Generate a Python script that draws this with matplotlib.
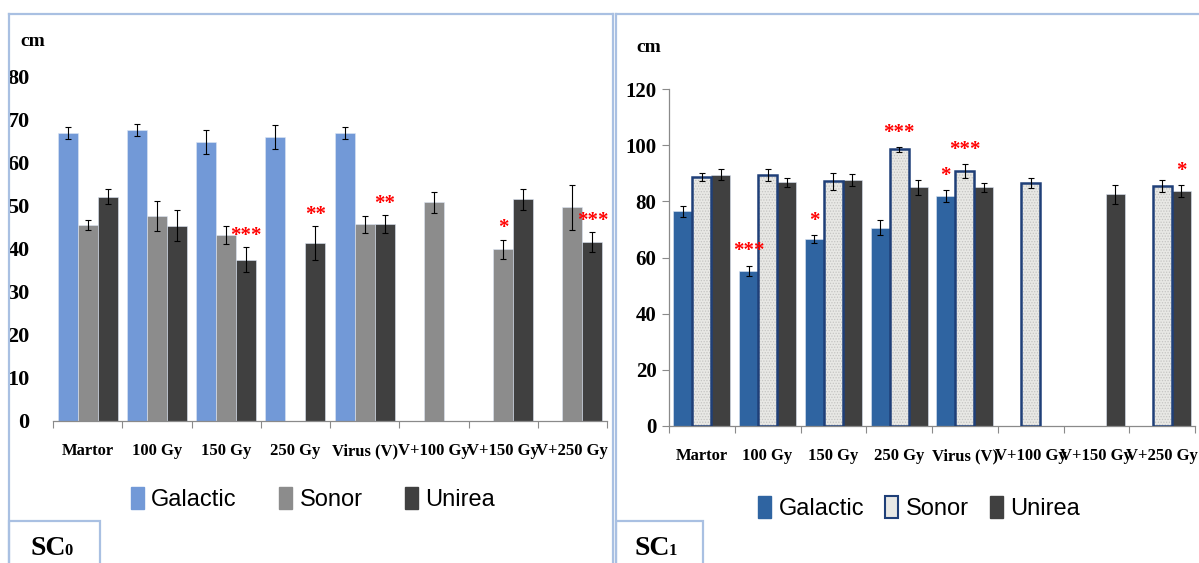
import numpy as np
import matplotlib
matplotlib.use("Agg")
import matplotlib.pyplot as plt
from matplotlib.patches import Patch, Rectangle
from matplotlib.lines import Line2D

categories = ["Martor", "100 Gy", "150 Gy", "250 Gy", "Virus (V)",
              "V+100 Gy", "V+150 Gy", "V+250 Gy"]
series = ["Galactic", "Sonor", "Unirea"]
nan = np.nan

# SC0 plant height (cm) and standard errors
sc0_galactic = [66.8, 67.6, 64.8, 65.9, 66.8, nan, nan, nan]
sc0_galactic_err = [1.4, 1.4, 2.7, 2.8, 1.4, nan, nan, nan]
sc0_sonor = [45.5, 47.7, 43.2, nan, 45.7, 50.8, 39.9, 49.6]
sc0_sonor_err = [1.2, 3.5, 2.0, nan, 2.0, 2.5, 2.2, 5.2]
sc0_unirea = [52.1, 45.3, 37.4, 41.3, 45.7, nan, 51.5, 41.5]
sc0_unirea_err = [1.7, 3.6, 2.9, 3.9, 2.1, nan, 2.4, 2.3]

# SC1 plant height (cm) and standard errors
sc1_galactic = [76.5, 55.2, 66.6, 70.7, 82.0, nan, nan, nan]
sc1_galactic_err = [1.9, 1.9, 1.4, 2.5, 2.1, nan, nan, nan]
sc1_sonor = [88.8, 89.4, 87.2, 98.6, 90.9, 86.6, nan, 85.6]
sc1_sonor_err = [1.5, 2.2, 3.0, 0.9, 2.4, 1.9, nan, 2.2]
sc1_unirea = [89.6, 86.9, 87.6, 85.0, 85.0, nan, 82.5, 83.7]
sc1_unirea_err = [1.9, 1.6, 2.1, 2.8, 1.5, nan, 3.5, 2.2]

# significance marks: (category index, series index, label)
sc0_marks = [(2, 2, "***"), (3, 2, "**"), (4, 2, "**"), (6, 1, "*"), (7, 2, "***")]
sc1_marks = [(1, 0, "***"), (2, 0, "*"), (3, 1, "***"), (4, 0, "*"),
             (4, 1, "***"), (7, 2, "*")]

W, H = 1199, 563
SERIF = "Liberation Serif"
SANS = "Liberation Sans"
FRAME = "#a9c0e2"
AXIS = "#8a8a8a"
BW = 0.29

fig = plt.figure(figsize=(W / 100, H / 100), dpi=100)
fig.patch.set_facecolor("white")


def fx(x):
    return x / W


def fy(y):
    return 1 - y / H


def frame_line(x0, y0, x1, y1):
    fig.add_artist(Line2D([fx(x0), fx(x1)], [fy(y0), fy(y1)],
                          transform=fig.transFigure, color=FRAME, lw=1.6))


def style_axes(ax, ymax, ystep, ysize, show_y):
    x = np.arange(len(categories))
    ax.set_xlim(-0.5, len(categories) - 0.5)
    ax.set_ylim(0, ymax)
    ax.set_yticks(np.arange(0, ymax + 1, ystep))
    ax.set_xticks(x)
    ax.set_xticklabels(categories)
    ax.set_xticks(np.arange(-0.5, len(categories)), minor=True)
    ax.tick_params(axis="x", which="major", length=0, pad=16)
    ax.tick_params(axis="x", which="minor", length=5, color=AXIS, width=0.8)
    for lab in ax.get_xticklabels():
        lab.set_fontfamily(SERIF)
        lab.set_fontweight("bold")
        lab.set_fontsize(12)
    for lab in ax.get_yticklabels():
        lab.set_fontfamily(SERIF)
        lab.set_fontweight("bold")
        lab.set_fontsize(ysize)
    for s in ("top", "right"):
        ax.spines[s].set_visible(False)
    ax.spines["bottom"].set_color(AXIS)
    ax.spines["bottom"].set_linewidth(0.9)
    if show_y:
        ax.spines["left"].set_color(AXIS)
        ax.spines["left"].set_linewidth(0.9)
        ax.tick_params(axis="y", length=5, color=AXIS, width=0.8, pad=4)
    else:
        ax.spines["left"].set_visible(False)
        ax.tick_params(axis="y", length=0, pad=17)
    ax.set_facecolor("none")


def errbars(ax, xs, vals, errs):
    ax.errorbar(xs, vals, yerr=errs, fmt="none", ecolor="black",
                elinewidth=0.8, capsize=2, capthick=0.8, zorder=4)


def stars(ax, marks, tops, offset):
    x = np.arange(len(categories))
    for ci, si, lab in marks:
        xs = x[ci] + (si - 1) * BW
        ax.annotate(lab, (xs, tops[si][ci]), xytext=(0, offset),
                    textcoords="offset points", ha="center", va="bottom",
                    color="red", fontsize=15, fontweight="bold",
                    family=SERIF, zorder=5)


# ---- SC0 panel ----
ax0 = fig.add_axes([fx(53), fy(420.7), fx(607 - 53), (420.7 - 76.7) / H])
x = np.arange(len(categories))
c0 = ["#7299d7", "#8c8c8c", "#404040"]
vals0 = [sc0_galactic, sc0_sonor, sc0_unirea]
errs0 = [sc0_galactic_err, sc0_sonor_err, sc0_unirea_err]
for i, (v, e) in enumerate(zip(vals0, errs0)):
    xs = x + (i - 1) * BW
    v = np.array(v)
    ok = ~np.isnan(v)
    ax0.bar(xs[ok], v[ok], BW, color=c0[i], edgecolor="#dde6f4",
            linewidth=0.4, zorder=2)
    errbars(ax0, xs[ok], v[ok], np.array(e)[ok])
style_axes(ax0, 80, 10, 16, False)
tops0 = [np.array(v) + np.array(e) for v, e in zip(vals0, errs0)]
stars(ax0, sc0_marks, tops0, 1)

fig.legend(handles=[Patch(color=c) for c in c0], labels=series,
           loc="center", bbox_to_anchor=(fx(313), fy(499)), ncol=3,
           frameon=False, handlelength=0.55, handleheight=1.1,
           handletextpad=0.3, columnspacing=1.8,
           prop={"family": SANS, "size": 17})

# ---- SC1 panel ----
ax1 = fig.add_axes([fx(669), fy(425.7), fx(1195 - 669), (425.7 - 89.3) / H])
c1 = ["#2f64a1", "#e8e8e5", "#404040"]
vals1 = [sc1_galactic, sc1_sonor, sc1_unirea]
errs1 = [sc1_galactic_err, sc1_sonor_err, sc1_unirea_err]
plt.rcParams["hatch.linewidth"] = 0.6
for i, (v, e) in enumerate(zip(vals1, errs1)):
    xs = x + (i - 1) * BW
    v = np.array(v)
    ok = ~np.isnan(v)
    if i == 1:
        # speckled fill, then the dark blue outline on top
        ax1.bar(xs[ok], v[ok], BW, color=c1[i], edgecolor="#c4c4c2",
                hatch="......", linewidth=0, zorder=2)
        ax1.bar(xs[ok], v[ok], BW, fill=False, edgecolor="#1f3f78",
                linewidth=1.8, zorder=3)
    else:
        ax1.bar(xs[ok], v[ok], BW, color=c1[i], edgecolor="#dde6f4",
                linewidth=0.4, zorder=2)
    errbars(ax1, xs[ok], v[ok], np.array(e)[ok])
style_axes(ax1, 120, 20, 15, True)
tops1 = [np.array(v) + np.array(e) for v, e in zip(vals1, errs1)]
stars(ax1, sc1_marks, tops1, 3)

fig.legend(handles=[Patch(color=c1[0]),
                    Patch(facecolor=c1[1], edgecolor="#1f3f78", linewidth=1.5),
                    Patch(color=c1[2])],
           labels=series, loc="center", bbox_to_anchor=(fx(919), fy(508)),
           ncol=3, frameon=False, handlelength=0.55, handleheight=1.1,
           handletextpad=0.3, columnspacing=0.9,
           prop={"family": SANS, "size": 17})

# unit labels
fig.text(fx(20), fy(42), "cm", family=SERIF, fontweight="bold", fontsize=14,
         va="center")
fig.text(fx(636), fy(48), "cm", family=SERIF, fontweight="bold", fontsize=14,
         va="center")

# panel frames
frame_line(9, 14, 9, H)
frame_line(9, 14, 613, 14)
frame_line(613, 14, 613, H)
frame_line(616, 14, 616, H)
frame_line(616, 14, W, 14)

# panel tags
for x0, x1, tag, sub, tx in [(9, 100, "SC", "0", 30), (616, 703, "SC", "1", 635)]:
    fig.add_artist(Rectangle((fx(x0), -0.01), fx(x1 - x0), fy(521) + 0.01,
                             transform=fig.transFigure, facecolor="white",
                             edgecolor=FRAME, lw=1.6))
    fig.text(fx(tx), fy(555), tag, family=SERIF, fontweight="bold",
             fontsize=20, va="baseline")
    fig.text(fx(tx + 34), fy(555), sub, family=SERIF, fontweight="bold",
             fontsize=12, va="baseline")

fig.savefig("out.png", dpi=100)
